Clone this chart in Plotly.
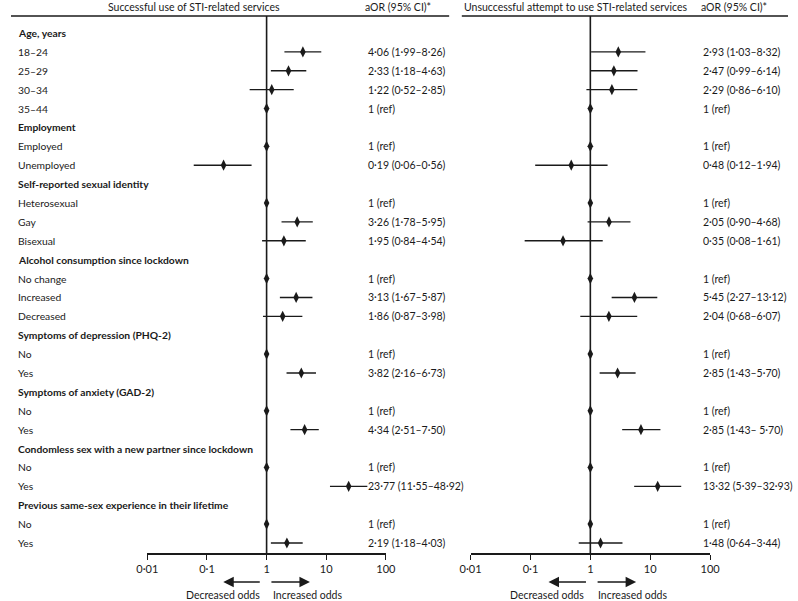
import plotly.graph_objects as go

W, H = 798, 601

row_labels = [
    "Age, years", "18–24", "25–29", "30–34", "35–44",
    "Employment", "Employed", "Unemployed",
    "Self-reported sexual identity", "Heterosexual", "Gay", "Bisexual",
    "Alcohol consumption since lockdown", "No change", "Increased", "Decreased",
    "Symptoms of depression (PHQ-2)", "No", "Yes",
    "Symptoms of anxiety (GAD-2)", "No", "Yes",
    "Condomless sex with a new partner since lockdown", "No", "Yes",
    "Previous same-sex experience in their lifetime", "No", "Yes",
]
is_header = [True, False, False, False, False,
             True, False, False,
             True, False, False, False,
             True, False, False, False,
             True, False, False,
             True, False, False,
             True, False, False,
             True, False, False]

left_or = [None, 4.06, 2.33, 1.22, 1, None, 1, 0.19, None, 1, 3.26, 1.95,
           None, 1, 3.13, 1.86, None, 1, 3.82, None, 1, 4.34, None, 1, 23.77, None, 1, 2.19]
left_lo = [None, 1.99, 1.18, 0.52, 1, None, 1, 0.06, None, 1, 1.78, 0.84,
           None, 1, 1.67, 0.87, None, 1, 2.16, None, 1, 2.51, None, 1, 11.55, None, 1, 1.18]
left_hi = [None, 8.26, 4.63, 2.85, 1, None, 1, 0.56, None, 1, 5.95, 4.54,
           None, 1, 5.87, 3.98, None, 1, 6.73, None, 1, 7.50, None, 1, 48.92, None, 1, 4.03]

right_or = [None, 2.93, 2.47, 2.29, 1, None, 1, 0.48, None, 1, 2.05, 0.35,
            None, 1, 5.45, 2.04, None, 1, 2.85, None, 1, 7.0, None, 1, 13.32, None, 1, 1.48]
right_lo = [None, 1.03, 0.99, 0.86, 1, None, 1, 0.12, None, 1, 0.90, 0.08,
            None, 1, 2.27, 0.68, None, 1, 1.43, None, 1, 3.4, None, 1, 5.39, None, 1, 0.64]
right_hi = [None, 8.32, 6.14, 6.10, 1, None, 1, 1.94, None, 1, 4.68, 1.61,
            None, 1, 13.12, 6.07, None, 1, 5.70, None, 1, 14.8, None, 1, 32.93, None, 1, 3.44]

left_text = ["", "4·06 (1·99–8·26)", "2·33 (1·18–4·63)", "1·22 (0·52–2·85)", "1 (ref)",
             "", "1 (ref)", "0·19 (0·06–0·56)",
             "", "1 (ref)", "3·26 (1·78–5·95)", "1·95 (0·84–4·54)",
             "", "1 (ref)", "3·13 (1·67–5·87)", "1·86 (0·87–3·98)",
             "", "1 (ref)", "3·82 (2·16–6·73)",
             "", "1 (ref)", "4·34 (2·51–7·50)",
             "", "1 (ref)", "23·77 (11·55–48·92)",
             "", "1 (ref)", "2·19 (1·18–4·03)"]
right_text = ["", "2·93 (1·03–8·32)", "2·47 (0·99–6·14)", "2·29 (0·86–6·10)", "1 (ref)",
              "", "1 (ref)", "0·48 (0·12–1·94)",
              "", "1 (ref)", "2·05 (0·90–4·68)", "0·35 (0·08–1·61)",
              "", "1 (ref)", "5·45 (2·27–13·12)", "2·04 (0·68–6·07)",
              "", "1 (ref)", "2·85 (1·43–5·70)",
              "", "1 (ref)", "2·85 (1·43– 5·70)",
              "", "1 (ref)", "13·32 (5·39–32·93)",
              "", "1 (ref)", "1·48 (0·64–3·44)"]

tick_vals = [0.01, 0.1, 1, 10, 100]
tick_text = ["0·01", "0·1", "1", "10", "100"]

panel_titles = ["Successful use of STI-related services",
                "Unsuccessful attempt to use STI-related services"]
value_header = "aOR (95% CI)*"

INK = "#1a1a1a"
FONT = "Lato"
FS = 11
FS_LAB = 10.3
FS_VAL = 10.5
FS_HEAD = 10.5

rows = list(range(len(row_labels)))
y_top_px, y_axis_px = 16, 553
row0_px, rowN_px = 33, 543
step = (rowN_px - row0_px) / (len(rows) - 1)
y_range = [len(rows) - 1 + (y_axis_px - rowN_px) / step, (y_top_px - row0_px) / step]

fig = go.Figure()


def add_panel(or_vals, lo_vals, hi_vals, xaxis):
    idx = [i for i, v in enumerate(or_vals) if v is not None]
    xs = [or_vals[i] for i in idx]
    ys = [rows[i] for i in idx]
    plus = [hi_vals[i] - or_vals[i] for i in idx]
    minus = [or_vals[i] - lo_vals[i] for i in idx]
    # reference line at OR = 1
    fig.add_trace(go.Scatter(x=[1, 1], y=y_range, mode="lines",
                             line=dict(color=INK, width=1.6), xaxis=xaxis, yaxis="y",
                             showlegend=False, hoverinfo="skip"))
    fig.add_trace(go.Scatter(
        x=xs, y=ys, mode="markers", xaxis=xaxis, yaxis="y",
        marker=dict(symbol="diamond-tall", size=8, color=INK),
        error_x=dict(type="data", symmetric=False, array=plus, arrayminus=minus,
                     color=INK, thickness=1.4, width=0),
        showlegend=False))


add_panel(left_or, left_lo, left_hi, "x")
add_panel(right_or, right_lo, right_hi, "x2")

axis_common = dict(type="log", range=[-2, 2], showgrid=False, zeroline=False,
                   showline=True, linecolor=INK, linewidth=1.5, ticks="outside",
                   ticklen=5, tickwidth=1.2, tickcolor=INK, tickvals=tick_vals,
                   ticktext=tick_text, tickfont=dict(family=FONT, size=FS, color=INK),
                   anchor="y", fixedrange=True)

fig.update_layout(
    width=W, height=H, autosize=False,
    margin=dict(l=0, r=0, t=0, b=0),
    paper_bgcolor="white", plot_bgcolor="white",
    font=dict(family=FONT, size=FS, color=INK),
    xaxis=dict(domain=[140 / W, 385 / W], **axis_common),
    xaxis2=dict(domain=[472 / W, 718 / W], **axis_common),
    yaxis=dict(domain=[1 - y_axis_px / H, 1 - y_top_px / H], range=y_range,
               visible=False, fixedrange=True),
)

ann = []
for i, lab in enumerate(row_labels):
    ann.append(dict(x=5 / W, y=rows[i], xref="paper", yref="y", xanchor="left",
                    yanchor="middle", showarrow=False,
                    text=f"<b>{lab}</b>" if is_header[i] else lab,
                    font=dict(family=FONT, size=FS_LAB, color=INK)))
    if left_text[i]:
        ann.append(dict(x=365 / W, y=rows[i], xref="paper", yref="y", xanchor="left",
                        yanchor="middle", showarrow=False, text=left_text[i],
                        font=dict(family=FONT, size=FS_VAL, color=INK)))
    if right_text[i]:
        ann.append(dict(x=709 / W, y=rows[i], xref="paper", yref="y", xanchor="left",
                        yanchor="middle", showarrow=False, text=right_text[i],
                        font=dict(family=FONT, size=FS_VAL, color=INK)))

hy = 1 - 7 / H
hfont = dict(family=FONT, size=FS_HEAD, color=INK)
ann.append(dict(x=188 / W, y=hy, xref="paper", yref="paper", xanchor="center",
                yanchor="middle", showarrow=False, text=panel_titles[0], font=hfont))
ann.append(dict(x=361 / W, y=hy, xref="paper", yref="paper", xanchor="left",
                yanchor="middle", showarrow=False, text=value_header, font=hfont))
ann.append(dict(x=580 / W, y=hy, xref="paper", yref="paper", xanchor="center",
                yanchor="middle", showarrow=False, text=panel_titles[1], font=hfont))
ann.append(dict(x=707 / W, y=hy, xref="paper", yref="paper", xanchor="left",
                yanchor="middle", showarrow=False, text=value_header, font=hfont))

# direction arrows and labels
ay_paper = 1 - 582 / H
ty_paper = 1 - 595 / H
afont = dict(family=FONT, size=10.5, color=INK)
for (dec_head, dec_tail, inc_tail, inc_head, dec_txt_r, inc_txt_l) in [
        (218, 256, 267, 307, 258, 267), (552, 591, 602, 642, 591, 601)]:
    ann.append(dict(x=dec_head / W, y=ay_paper, xref="paper", yref="paper", text="",
                    showarrow=True, ax=dec_tail - dec_head, ay=0, arrowhead=2,
                    arrowsize=1.5, arrowwidth=1.4, arrowcolor=INK, standoff=0))
    ann.append(dict(x=inc_head / W, y=ay_paper, xref="paper", yref="paper", text="",
                    showarrow=True, ax=inc_tail - inc_head, ay=0, arrowhead=2,
                    arrowsize=1.5, arrowwidth=1.4, arrowcolor=INK, standoff=0))
    ann.append(dict(x=dec_txt_r / W, y=ty_paper, xref="paper", yref="paper",
                    xanchor="right", yanchor="middle", showarrow=False,
                    text="Decreased odds", font=afont))
    ann.append(dict(x=inc_txt_l / W, y=ty_paper, xref="paper", yref="paper",
                    xanchor="left", yanchor="middle", showarrow=False,
                    text="Increased odds", font=afont))

fig.update_layout(annotations=ann)

line_y = 1 - 16 / H
fig.add_shape(type="line", xref="paper", yref="paper", x0=0, x1=450 / W,
              y0=line_y, y1=line_y, line=dict(color=INK, width=1.5))
fig.add_shape(type="line", xref="paper", yref="paper", x0=463 / W, x1=1,
              y0=line_y, y1=line_y, line=dict(color=INK, width=1.5))

fig.write_html("out.html", config={"displayModeBar": False},
               post_script="document.body.style.margin='0';document.body.style.overflow='hidden';")
